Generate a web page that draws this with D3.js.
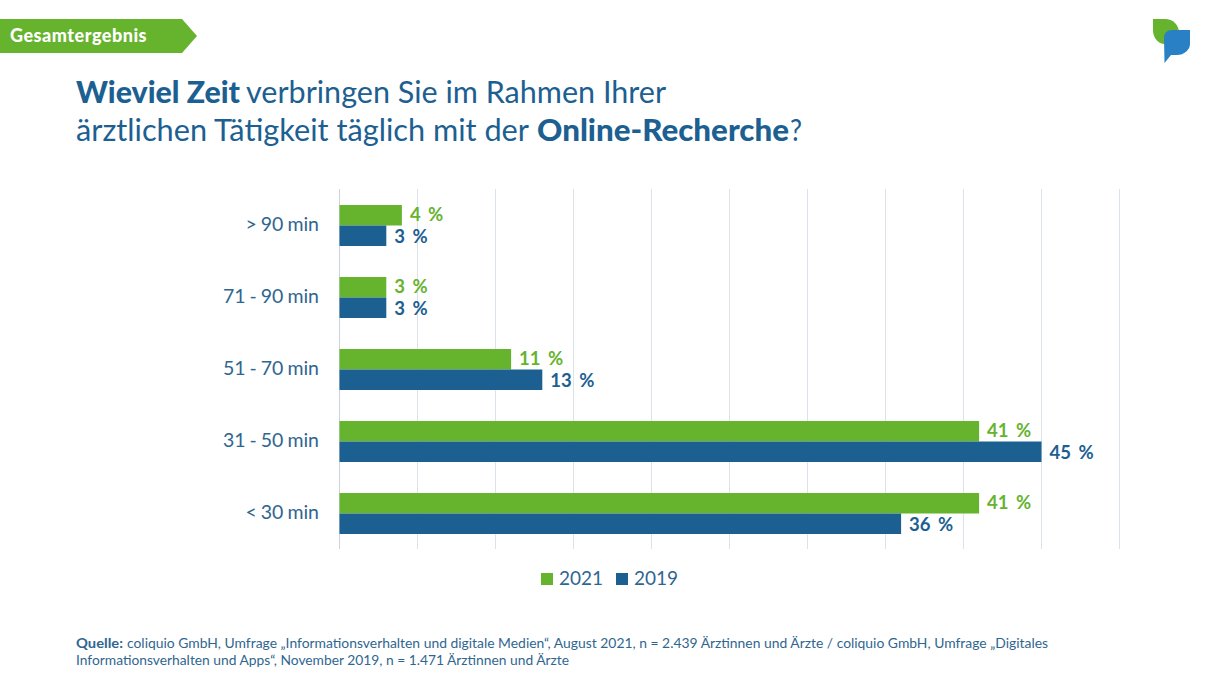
<!DOCTYPE html>
<html><head><meta charset="utf-8">
<script src="https://cdn.jsdelivr.net/npm/d3@7"></script>
<style>html,body{margin:0;padding:0;background:#fff}svg{display:block}text{font-family:Lato,"Noto Sans",sans-serif}</style>
</head><body><div id="c"></div>
<script>
const categories=["> 90 min","71 - 90 min","51 - 70 min","31 - 50 min","< 30 min"];
const series2021=[4,3,11,41,41];
const series2019=[3,3,13,45,36];
const seriesNames=["2021","2019"];
const xTicks=[0,5,10,15,20,25,30,35,40,45,50];
const GREEN="#66b32e",BLUE="#1c6091",TXT="#2f6690";
const svg=d3.select("#c").append("svg").attr("width",1210).attr("height",680);
const x=d3.scaleLinear().domain([0,50]).range([339.5,1119.5]);
const y=d3.scaleBand().domain(categories).range([189,549]);
const inner=d3.scaleBand().domain(seriesNames).range([16,57]);
const colors=d3.scaleOrdinal().domain(seriesNames).range([GREEN,BLUE]);
// grid
svg.append("g").selectAll("line").data(xTicks).join("line")
 .attr("x1",d=>x(d)).attr("x2",d=>x(d)).attr("y1",189).attr("y2",549)
 .attr("stroke",d=>d===0?"#c8d4e0":"#dbe2e9").attr("stroke-width",1);
// bars
const rows=[[seriesNames[0],series2021,6],[seriesNames[1],series2019,7.5]];
rows.forEach(([name,vals,dy])=>{
 const g=svg.append("g");
 g.selectAll("rect").data(vals).join("rect")
  .attr("x",x(0)).attr("y",(d,i)=>y(categories[i])+inner(name))
  .attr("width",d=>x(d)-x(0)).attr("height",inner.bandwidth()).attr("fill",colors(name));
 g.selectAll("text").data(vals).join("text")
  .attr("x",d=>x(d)+8).attr("y",(d,i)=>y(categories[i])+inner(name)+inner.bandwidth()/2+dy)
  .attr("fill",colors(name)).attr("font-size",18.5).attr("font-weight",700).attr("word-spacing",3)
  .text(d=>d+" %");
});
// category labels
svg.append("g").selectAll("text").data(categories).join("text")
 .attr("x",319).attr("y",d=>y(d)+y.bandwidth()/2+5.5).attr("text-anchor","end")
 .attr("fill",TXT).attr("font-size",19.5).attr("word-spacing",-1).text(d=>d);
// legend
const lg=svg.append("g");
const lx=d3.scaleOrdinal().domain(seriesNames).range([541,616]);
seriesNames.forEach(n=>{
 lg.append("rect").attr("x",lx(n)).attr("y",573).attr("width",12).attr("height",12).attr("fill",colors(n));
 lg.append("text").attr("x",lx(n)+18).attr("y",585).attr("fill",TXT).attr("font-size",19).text(n);
});
// header tag
svg.append("path").attr("d","M0 19H182L197 36L182 53H0Z").attr("fill",GREEN);
svg.append("text").attr("x",10).attr("y",41.5).attr("fill","#fff").attr("font-size",18).attr("font-weight",900).attr("letter-spacing",0.5).text("Gesamtergebnis");
// title
const titleParts=[
 ["Wieviel Zeit",900,76,103,164],
 ["verbringen Sie im Rahmen Ihrer",400,246,103,420],
 ["ärztlichen Tätigkeit täglich mit der",400,76,141,453],
 ["Online-Recherche",900,537,141,252],
 ["?",400,790,141,12]];
svg.append("g").selectAll("text").data(titleParts).join("text")
 .attr("x",d=>d[2]).attr("y",d=>d[3]).attr("font-weight",d=>d[1])
 .attr("fill","#1c6091").attr("font-size",30.5)
 .attr("textLength",d=>d[4]).attr("lengthAdjust","spacingAndGlyphs").text(d=>d[0]);
// source
const srcParts=[
 ["Quelle:",700,76,648,47],
 ["coliquio GmbH, Umfrage „Informationsverhalten und digitale Medien“, August 2021, n = 2.439 Ärztinnen und Ärzte / coliquio GmbH, Umfrage „Digitales",400,127,648,921],
 ["Informationsverhalten und Apps“, November 2019, n = 1.471 Ärztinnen und Ärzte",400,76,665,493]];
svg.append("g").selectAll("text").data(srcParts).join("text")
 .attr("x",d=>d[2]).attr("y",d=>d[3]).attr("font-weight",d=>d[1])
 .attr("fill",TXT).attr("font-size",14)
 .attr("textLength",d=>d[4]).attr("lengthAdjust","spacingAndGlyphs").text(d=>d[0]);
// logo
svg.append("path").attr("d","M1153 19H1165C1173 19 1179 25 1179 33L1168 44H1164C1157 43 1153 37 1153 30Z").attr("fill",GREEN);
svg.append("path").attr("d","M1172 30H1190V44C1190 50 1184 55 1177 55H1171L1164.5 63L1164 38C1164 33 1167 30 1172 30Z").attr("fill","#2a80c4");
</script></body></html>
